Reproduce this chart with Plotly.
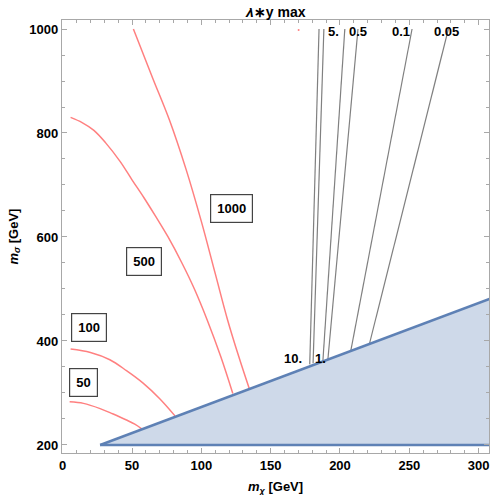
import plotly.graph_objects as go

# ---- data ----
# excluded region (m_sigma below the kinematic line)
region_x = [27, 310, 310, 27]
region_y = [200, 483, 200, 200]
edge_upper_x = [27, 310]
edge_upper_y = [200, 483]
edge_lower_x = [27, 310]
edge_lower_y = [200, 200]

# red contours (levels 50, 100, 500, 1000)
c50_x = [5, 15, 27, 36, 46, 52, 57]
c50_y = [283, 280, 270, 260, 248, 240, 231]
c100_x = [5.7, 20, 34, 46, 58, 70, 81]
c100_y = [384.5, 378, 364, 343, 319, 289, 256]
c500_x = [5.7, 14, 22.5, 31, 41.5, 50, 58.5, 66.5, 76, 86, 95, 104.3, 114, 122.7]
c500_y = [830, 820, 805, 781, 745, 710, 676, 642, 600, 550, 500, 440, 370, 299]
c1000_x = [51, 65, 77, 89, 100, 110, 119, 127, 134.5]
c1000_y = [1000, 905, 825, 730, 630, 530, 440, 370, 309]
red_levels = ["50", "100", "500", "1000"]
red_label_x = [15.1, 19, 58.3, 122]
red_label_y = [321, 425, 552, 654]

# grey contours of lambda*y max (straight segments: top end, bottom end)
grey_levels = ["10.", "5.", "1.", "0.5", "0.1", "0.05"]
grey_top_x = [184.9, 188.4, 203.5, 213.0, 252.0, 278.2]
grey_top_y = [1000, 1000, 1000, 1000, 1000, 1000]
grey_bot_x = [178.2, 180.6, 187.7, 191.3, 207.8, 221.3]
grey_bot_y = [355, 357, 362, 365, 381, 395]
grey_label_x = [165.8, 195.4, 185.8, 213.1, 243.8, 277.0]
grey_label_y = [367, 996, 367, 996, 996, 996]

stray_x = [170.2]
stray_y = [998]

x_ticks = [0, 50, 100, 150, 200, 250, 300]
y_ticks = [200, 400, 600, 800, 1000]

RED = "#ff8080"
BLUE = "#5e81b5"
GREY = "#808080"
FONT = "Liberation Sans, Arial, sans-serif"

fig = go.Figure()

fig.add_trace(go.Scatter(x=region_x, y=region_y, fill="toself",
                         fillcolor="rgba(94,129,181,0.30)", line=dict(width=0),
                         mode="lines", hoverinfo="skip", showlegend=False))

for cx, cy in [(c50_x, c50_y), (c100_x, c100_y), (c500_x, c500_y), (c1000_x, c1000_y)]:
    fig.add_trace(go.Scatter(x=cx, y=cy, mode="lines",
                             line=dict(color=RED, width=1.5, shape="spline", smoothing=1.0),
                             showlegend=False, hoverinfo="skip"))

for i in range(len(grey_levels)):
    fig.add_trace(go.Scatter(x=[grey_top_x[i], grey_bot_x[i]], y=[grey_top_y[i], grey_bot_y[i]],
                             mode="lines", line=dict(color=GREY, width=1.2),
                             showlegend=False, hoverinfo="skip"))

fig.add_trace(go.Scatter(x=stray_x, y=stray_y, mode="markers",
                         marker=dict(color=RED, size=2), showlegend=False, hoverinfo="skip"))

for ex, ey in [(edge_upper_x, edge_upper_y), (edge_lower_x, edge_lower_y)]:
    fig.add_trace(go.Scatter(x=ex, y=ey, mode="lines", line=dict(color=BLUE, width=2.5),
                             showlegend=False, hoverinfo="skip"))

annotations = []
for t, x, y in zip(red_levels, red_label_x, red_label_y):
    annotations.append(dict(x=x, y=y, xref="x", yref="y", text=t, showarrow=False,
                            font=dict(family=FONT, size=13, color="black", weight="bold"),
                            bgcolor="white", bordercolor="#444444", borderwidth=1.2, borderpad=6))
for t, x, y in zip(grey_levels, grey_label_x, grey_label_y):
    annotations.append(dict(x=x, y=y, xref="x", yref="y", text=t, showarrow=False,
                            font=dict(family=FONT, size=13, color="black", weight="bold")))

annotations.append(dict(x=0.5, y=1, xref="paper", yref="paper", yanchor="bottom", yshift=-2,
                        text="<i>λ</i>∗y max", showarrow=False,
                        font=dict(family=FONT, size=14, color="black", weight="bold")))
annotations.append(dict(x=0.5, y=0, xref="paper", yref="paper", yanchor="middle", yshift=-34,
                        text="<i>m</i><sub><i>χ</i></sub> [GeV]", showarrow=False,
                        font=dict(family=FONT, size=13, color="black", weight="bold")))
annotations.append(dict(x=0, y=0.5, xref="paper", yref="paper", xanchor="center", xshift=-48,
                        text="<i>m</i><sub><i>σ</i></sub> [GeV]", showarrow=False, textangle=-90,
                        font=dict(family=FONT, size=13, color="black", weight="bold")))

axis_common = dict(showgrid=False, zeroline=False, showline=True, linecolor="#a8a8a8",
                   linewidth=1.3, mirror="allticks", ticks="inside", ticklen=5,
                   tickcolor="#a8a8a8", tickwidth=1,
                   tickfont=dict(family=FONT, size=13, color="black", weight="bold"))

# the page body keeps an 8px margin, so the figure is sized to fit without overflow
fig.update_layout(
    width=482, height=487,
    margin=dict(l=54, r=1, t=12, b=42),
    paper_bgcolor="white", plot_bgcolor="white",
    annotations=annotations,
    xaxis=dict(range=[-0.5, 307.5], tickvals=x_ticks,
               minor=dict(dtick=10, tick0=0, ticks="inside", ticklen=3, tickcolor="#a8a8a8"),
               **axis_common),
    yaxis=dict(range=[184.6, 1017.3], tickvals=y_ticks,
               minor=dict(dtick=50, tick0=200, ticks="inside", ticklen=3, tickcolor="#a8a8a8"),
               **axis_common),
)

fig.write_html("out.html")
